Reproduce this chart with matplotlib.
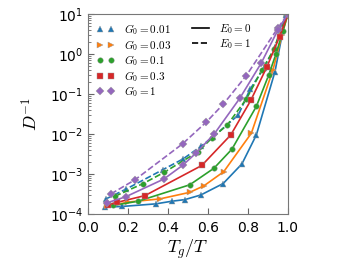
import matplotlib
matplotlib.use('Agg')
import matplotlib.pyplot as plt
from matplotlib.lines import Line2D

plt.rcParams['mathtext.fontset'] = 'cm'

labels = ['$G_0=0.01$', '$G_0=0.03$', '$G_0=0.1$', '$G_0=0.3$', '$G_0=1$']
colors = ['#1f77b4', '#ff7f0e', '#2ca02c', '#d62728', '#9467bd']
markers = ['^', '>', 'o', 's', 'D']

# E0 = 0 (solid)
x0 = [
    [0.086, 0.168, 0.338, 0.42, 0.484, 0.564, 0.676, 0.77, 0.842, 0.935, 0.99],
    [0.097, 0.201, 0.36, 0.509, 0.58, 0.679, 0.817, 0.925, 0.97, 1.0],
    [0.126, 0.251, 0.509, 0.63, 0.72, 0.842, 0.904, 0.94, 0.975, 1.0],
    [0.10, 0.143, 0.285, 0.569, 0.714, 0.814, 0.895, 0.958, 1.0],
    [0.093, 0.188, 0.379, 0.473, 0.539, 0.631, 0.759, 0.867, 0.95, 1.0],
]
y0 = [
    [1.5e-4, 1.55e-4, 1.8e-4, 2.1e-4, 2.3e-4, 3.0e-4, 5.8e-4, 1.8e-3, 9.5e-3, 0.36, 9.4],
    [1.55e-4, 2.0e-4, 2.4e-4, 3.5e-4, 5.1e-4, 1.15e-3, 1.05e-2, 0.4, 3.0, 10],
    [1.65e-4, 2.1e-4, 5.4e-4, 1.4e-3, 4.2e-3, 0.049, 0.3, 1.0, 3.8, 10],
    [1.7e-4, 1.95e-4, 2.9e-4, 1.64e-3, 9.5e-3, 0.069, 0.48, 2.7, 10],
    [1.9e-4, 2.7e-4, 7.5e-4, 1.65e-3, 3.3e-3, 1.0e-2, 0.078, 0.6, 4.0, 10],
]

# E0 = 1 (dashed); only the visible series: G0 = 0.01, 0.1, 1
dash_idx = [0, 2, 4]
x1 = [
    [0.09, 0.19, 0.376, 0.476, 0.564, 0.626, 0.752, 0.81, 0.88, 0.935, 0.99],
    [0.135, 0.276, 0.38, 0.55, 0.62, 0.697, 0.792, 0.87, 0.93, 0.99],
    [0.115, 0.235, 0.473, 0.592, 0.677, 0.792, 0.95, 1.0],
]
y1 = [
    [2.4e-4, 4.2e-4, 1.3e-3, 2.4e-3, 4.9e-3, 8.5e-3, 0.03, 0.13, 0.45, 1.5, 9.5],
    [2.8e-4, 5.8e-4, 1.1e-3, 3.6e-3, 8e-3, 0.017, 0.075, 0.4, 1.3, 9.5],
    [3.2e-4, 7.2e-4, 5.7e-3, 0.02, 0.056, 0.29, 4.5, 10],
]

fig = plt.figure(figsize=(3.52, 2.64), dpi=100)
ax = fig.add_axes([0.25, 0.189, 0.568, 0.758])

for k, i in enumerate(dash_idx):
    ax.plot(x1[k], y1[k], '--', color=colors[i], marker=markers[i], ms=4,
            lw=1.2, mec='#999999', mew=0.3)
for i in range(5):
    ax.plot(x0[i], y0[i], '-', color=colors[i], marker=markers[i], ms=4,
            lw=1.2, mec='#999999', mew=0.3)

ax.set_yscale('log')
ax.set_xlim(0, 1)
ax.set_ylim(1e-4, 1e1)
ax.set_xticks([0.0, 0.2, 0.4, 0.6, 0.8, 1.0])
ax.set_xlabel('$T_g/T$', fontsize=13, labelpad=2)
ax.set_ylabel('$D^{-1}$', fontsize=13, labelpad=6)
ax.tick_params(which='both', direction='in', labelsize=10)
ax.tick_params(axis='x', pad=5)
ax.tick_params(which='major', length=4, color='#666666')
ax.tick_params(which='minor', length=2, color='#666666')
for s in ax.spines.values():
    s.set_color('#777777')

g_handles = [Line2D([], [], ls='none', color=colors[i], marker=markers[i], ms=4,
                    mec='#999999', mew=0.3) for i in range(5)]
leg1 = ax.legend(g_handles, labels, loc='upper left', frameon=False, numpoints=2,
                 fontsize=8, handlelength=1.6, labelspacing=0.05,
                 borderaxespad=0.35, handletextpad=0.9)
ax.add_artist(leg1)
e_handles = [Line2D([], [], color='black', ls='-', lw=1.2),
             Line2D([], [], color='black', ls='--', lw=1.2)]
ax.legend(e_handles, ['$E_0=0$', '$E_0=1$'], loc='upper left',
          bbox_to_anchor=(0.48, 1.0), frameon=False, fontsize=8,
          handlelength=1.5, labelspacing=0.05, borderaxespad=0.35,
          handletextpad=0.9)

fig.savefig('out.png', dpi=100)
